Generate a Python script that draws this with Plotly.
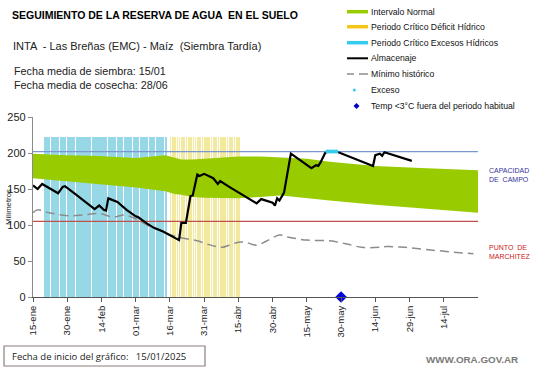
import plotly.graph_objects as go
import pandas as pd

# ---------------- DATA ----------------
alm_fechas = ["2025-01-15","2025-01-17","2025-01-19","2025-01-24","2025-01-26","2025-01-28","2025-01-29",
              "2025-02-03","2025-02-08","2025-02-11","2025-02-13","2025-02-15","2025-02-16","2025-02-17",
              "2025-02-21","2025-02-25","2025-03-01","2025-03-02","2025-03-06","2025-03-09","2025-03-13",
              "2025-03-16","2025-03-19","2025-03-20","2025-03-21","2025-03-23","2025-03-25","2025-03-26",
              "2025-03-28","2025-03-29","2025-03-31","2025-04-04","2025-04-06","2025-04-07","2025-04-11",
              "2025-04-18","2025-04-23","2025-04-25","2025-04-26","2025-04-30","2025-05-01","2025-05-02",
              "2025-05-03","2025-05-05","2025-05-06","2025-05-08","2025-05-17","2025-05-19","2025-05-20",
              "2025-05-21","2025-05-23","2025-05-24","2025-05-28","2025-06-04","2025-06-12","2025-06-13",
              "2025-06-14","2025-06-16","2025-06-17","2025-06-18","2025-06-30"]
alm_valores = [155, 150, 157, 148, 144, 153, 154,
               142, 130, 122, 127, 121, 120, 137,
               132, 121, 112, 111, 102, 96, 91,
               86, 81, 79, 103, 103, 140, 141,
               170, 168, 171, 165, 157, 161, 153,
               139, 130, 136, 135, 131, 127, 137,
               134, 145, 163, 199, 179, 183, 182,
               187, 200, 202, 202, 193, 183, 182,
               197, 199, 196, 201, 189]

min_fechas = ["2025-01-15","2025-01-17","2025-01-22","2025-01-30","2025-02-06","2025-02-13","2025-02-19",
              "2025-02-24","2025-02-28","2025-03-06","2025-03-09","2025-03-14","2025-03-20","2025-03-28",
              "2025-04-04","2025-04-08","2025-04-11","2025-04-15","2025-04-18","2025-04-23","2025-04-27",
              "2025-05-03","2025-05-07","2025-05-15","2025-05-25","2025-06-01","2025-06-08","2025-06-16",
              "2025-06-19","2025-06-27","2025-07-06","2025-07-16","2025-07-27"]
min_valores = [117, 121, 117, 113, 114, 116, 111,
               114, 110, 100, 96, 89, 83, 78,
               71, 69, 72, 76, 76, 72, 77,
               86, 83, 79, 78, 74, 69, 69,
               70, 69, 66, 63, 60]

banda_fechas = ["2025-01-15","2025-01-25","2025-01-30","2025-02-13","2025-03-01","2025-03-14","2025-03-18",
                "2025-03-21","2025-03-26","2025-03-31","2025-04-15","2025-04-25","2025-05-03","2025-05-07",
                "2025-05-15","2025-05-25","2025-06-14","2025-07-04","2025-07-29"]
banda_sup = [199, 197, 197, 196, 193, 197, 193,
             191, 191, 192, 195, 195, 194, 194,
             192, 188, 182, 179, 176]
banda_inf = [165, 162, 161, 156, 152, 147, 143,
             142, 139, 138, 137, 139, 141, 140,
             137, 134, 128, 123, 117]

exceso_fechas = ["2025-05-24","2025-05-25","2025-05-26","2025-05-27","2025-05-28"]
exceso_valores = [202, 202, 202, 202, 202]

temp_fechas = ["2025-05-30"]
temp_valores = [0]

periodo_exceso = ("2025-01-20", "2025-03-14")
periodo_deficit = ("2025-03-16", "2025-04-15")
altura_periodo = 222

capacidad_campo = 202
punto_marchitez = 105

tick_fechas = ["2025-01-15","2025-01-30","2025-02-14","2025-03-01","2025-03-16","2025-03-31","2025-04-15",
               "2025-04-30","2025-05-15","2025-05-30","2025-06-14","2025-06-29","2025-07-14"]
tick_textos = ["15-ene","30-ene","14-feb","01-mar","16-mar","31-mar","15-abr",
               "30-abr","15-may","30-may","14-jun","29-jun","14-jul"]
x_rango = ["2025-01-15", "2025-07-29"]

# ---------------- FIGURE ----------------
W, H = 541, 368
L, R, T, B = 33, 63, 117, 71
PW, PH = W - L - R, H - T - B

def px(x):
    return (x - L) / PW

def py(y):
    return (H - B - y) / PH

FONT = "Liberation Sans, Arial, sans-serif"
DAY_MS = 86400000

fig = go.Figure()

exc_dias = pd.date_range(*periodo_exceso, freq="D")
fig.add_trace(go.Bar(x=exc_dias, y=[altura_periodo] * len(exc_dias), width=0.68 * DAY_MS,
                     marker=dict(color="#96d8e6", line_width=0), offset=-0.1 * DAY_MS,
                     showlegend=False, hoverinfo="skip"))

fig.add_trace(go.Scatter(x=banda_fechas, y=banda_inf, mode="lines", line=dict(width=0, color="#99cc00"),
                         showlegend=False, hoverinfo="skip"))
fig.add_trace(go.Scatter(x=banda_fechas, y=banda_sup, mode="lines", line=dict(width=0, color="#99cc00"),
                         fill="tonexty", fillcolor="#99cc00", showlegend=False, hoverinfo="skip"))

def_dias = pd.date_range(*periodo_deficit, freq="D")
fig.add_trace(go.Bar(x=def_dias, y=[altura_periodo] * len(def_dias), width=0.72 * DAY_MS,
                     marker=dict(color="rgba(220,195,0,0.38)", line_width=0), offset=-0.1 * DAY_MS,
                     showlegend=False, hoverinfo="skip"))

fig.add_trace(go.Scatter(x=x_rango, y=[capacidad_campo] * 2, mode="lines",
                         line=dict(color="#7b98cf", width=1.2), showlegend=False, hoverinfo="skip"))
fig.add_trace(go.Scatter(x=x_rango, y=[punto_marchitez] * 2, mode="lines",
                         line=dict(color="#c0504d", width=1.2), showlegend=False, hoverinfo="skip"))

fig.add_trace(go.Scatter(x=min_fechas, y=min_valores, mode="lines", line_shape="spline",
                         line=dict(color="#8c8c8c", width=1.5, dash="9px,5px"), showlegend=False))
fig.add_trace(go.Scatter(x=alm_fechas, y=alm_valores, mode="lines",
                         line=dict(color="#000000", width=2.2), showlegend=False))
fig.add_trace(go.Scatter(x=exceso_fechas, y=exceso_valores, mode="lines+markers",
                         line=dict(color="#33ccee", width=3), marker=dict(color="#33ccee", size=4),
                         showlegend=False))
fig.add_trace(go.Scatter(x=temp_fechas, y=temp_valores, mode="markers", cliponaxis=False,
                         marker=dict(color="#0000dd", size=9, symbol="diamond"), showlegend=False))

# ---------------- TEXTS ----------------
ann = []
def text(x, y, s, size, color="#000000", xanchor="left", bold=False, angle=0, family=FONT):
    ann.append(dict(xref="paper", yref="paper", x=px(x), y=py(y), text=("<b>%s</b>" % s) if bold else s,
                    showarrow=False, xanchor=xanchor, yanchor="middle", textangle=angle,
                    font=dict(family=family, size=size, color=color)))

text(10, 15, "SEGUIMIENTO DE LA RESERVA DE AGUA  EN EL SUELO", 10.5, bold=True)
text(11, 46, "INTA  - Las Breñas (EMC) - Maíz  (Siembra Tardía)", 11, "#222222")
text(12, 71, "Fecha media de siembra: 15/01", 10.8, "#222222")
text(12, 85, "Fecha media de cosecha: 28/06", 10.8, "#222222")
text(8, 207, "Milímetros", 7.8, "#222222", xanchor="center", angle=-90)
text(487, 170, "CAPACIDAD", 7, "#333399")
text(487, 179, "DE  CAMPO", 7, "#333399")
text(487, 247, "PUNTO  DE", 7, "#cc2222")
text(487, 256, "MARCHITEZ", 7, "#cc2222")
text(10, 356, "Fecha de inicio del gráfico:   15/01/2025", 9.5, "#222222", family="Open Sans, sans-serif")
text(424, 359, "<b>WWW.ORA.GOV.AR</b>", 9.8, "#7a7a7a")

leg_rows = [11.7, 26.7, 42.7, 58.3, 74, 90, 106]
leg_text = ["Intervalo Normal", "Periodo Crítico Déficit Hídrico", "Periodo Crítico Excesos Hídricos",
            "Almacenaje", "Mínimo histórico", "Exceso", "Temp <3°C fuera del periodo habitual"]
for yy, s in zip(leg_rows, leg_text):
    text(369, yy, s, 8.7, "#111111")

shapes = []
def hline(x0, x1, y, color, w, dash="solid"):
    shapes.append(dict(type="line", xref="paper", yref="paper", x0=px(x0), x1=px(x1), y0=py(y), y1=py(y),
                       line=dict(color=color, width=w, dash=dash)))

hline(347, 368, leg_rows[0], "#99cc00", 3.5)
hline(347, 368, leg_rows[1], "#f5c518", 3.5)
hline(347, 368, leg_rows[2], "#33ccee", 3.5)
hline(347, 368, leg_rows[3], "#000000", 2)
hline(347, 354, leg_rows[4], "#8c8c8c", 1.5)
hline(359, 368, leg_rows[4], "#8c8c8c", 1.5)
shapes.append(dict(type="circle", xref="paper", yref="paper", x0=px(352.8), x1=px(355.8),
                   y0=py(leg_rows[5] + 1.5), y1=py(leg_rows[5] - 1.5), fillcolor="#33ccee", line_width=0))
cx, cy = 356.5, leg_rows[6]
shapes.append(dict(type="path", xref="paper", yref="paper",
                   path="M %f,%f L %f,%f L %f,%f L %f,%f Z" % (px(cx - 3), py(cy), px(cx), py(cy - 3),
                                                              px(cx + 3), py(cy), px(cx), py(cy + 3)),
                   fillcolor="#0000cc", line_width=0))
shapes.append(dict(type="rect", xref="paper", yref="paper", x0=px(4), x1=px(205), y0=py(366), y1=py(346),
                   line=dict(color="#8e7f7f", width=1.2), fillcolor="rgba(0,0,0,0)"))

fig.update_layout(
    width=W, height=H, margin=dict(l=L, r=R, t=T, b=B, autoexpand=False),
    paper_bgcolor="white", plot_bgcolor="white", barmode="overlay", bargap=0,
    font=dict(family=FONT, size=11, color="#222222"),
    annotations=ann, shapes=shapes, showlegend=False,
    xaxis=dict(type="date", range=x_rango, tickvals=tick_fechas, ticktext=tick_textos, tickangle=-90,
               tickfont=dict(size=9.5, color="#222222"), showgrid=False, zeroline=False,
               showline=True, linecolor="#555555", linewidth=1, ticks="outside", ticklen=4,
               tickcolor="#555555"),
    yaxis=dict(range=[0, 250], tickvals=[0, 50, 100, 150, 200, 250], tickfont=dict(size=11, color="#222222"),
               showgrid=False, zeroline=False, showline=True, linecolor="#8a8a8a", linewidth=1.2,
               ticks="outside", ticklen=4, tickcolor="#8a8a8a"),
)

fig.write_html("out.html", config={"displayModeBar": False},
               post_script="document.body.style.margin='0';document.body.style.overflow='hidden';")
